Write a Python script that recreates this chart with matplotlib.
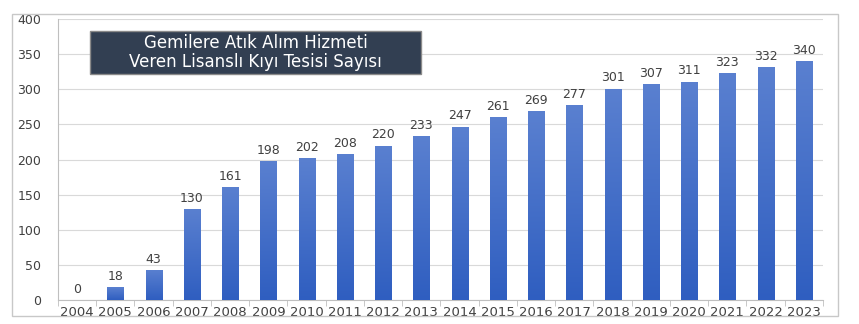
import matplotlib.pyplot as plt
import matplotlib.patches as mpatches
from matplotlib.colors import LinearSegmentedColormap
import numpy as np

# Veriler
yillar = ['2004', '2005', '2006', '2007', '2008', '2009', '2010', '2011', '2012', '2013',
          '2014', '2015', '2016', '2017', '2018', '2019', '2020', '2021', '2022', '2023']
tesis_sayisi = [0, 18, 43, 130, 161, 198, 202, 208, 220, 233,
                247, 261, 269, 277, 301, 307, 311, 323, 332, 340]
baslik = 'Gemilere Atık Alım Hizmeti\nVeren Lisanslı Kıyı Tesisi Sayısı'

fig = plt.figure(figsize=(8.59, 3.24), dpi=100)
ax = fig.add_axes([0.0675, 0.074, 0.8905, 0.867])

x = np.arange(len(yillar))
bars = ax.bar(x, tesis_sayisi, width=0.42, color='#3a66c4', zorder=2)

# dikey renk geçişi (üst açık, alt koyu)
grad = np.linspace(0, 1, 256).reshape(-1, 1)
cmap = LinearSegmentedColormap.from_list('g', ['#2f5ec0', '#5a80d0'])
for b in bars:
    h = b.get_height()
    if h <= 0:
        continue
    bx = b.get_x()
    im = ax.imshow(grad, cmap=cmap, origin='lower', aspect='auto',
                   extent=[bx, bx + b.get_width(), 0, h], zorder=3)
    im.set_clip_path(b)
    ax.text(bx + b.get_width() / 2, h + 6, str(h), ha='center', va='bottom',
            fontsize=9, color='#404040', zorder=4)
ax.text(0, 6, '0', ha='center', va='bottom', fontsize=9, color='#404040')

ax.set_xlim(-0.5, len(yillar) - 0.5)
ax.set_ylim(0, 400)
ax.set_yticks(range(0, 401, 50))
ax.set_xticks(x)
ax.set_xticklabels(yillar)
ax.set_xticks(np.arange(-0.5, len(yillar), 1), minor=True)
ax.tick_params(axis='x', which='major', length=0, labelsize=9.5, colors='#404040', pad=4)
ax.tick_params(axis='x', which='minor', length=4, color='#bfbfbf')
ax.tick_params(axis='y', length=0, labelsize=9, colors='#404040', pad=12)
ax.grid(axis='y', color='#d9d9d9', linewidth=0.8, zorder=0)
ax.set_axisbelow(True)
for s in ['top', 'right']:
    ax.spines[s].set_visible(False)
ax.spines['left'].set_color('#bfbfbf')
ax.spines['bottom'].set_color('#bfbfbf')

# başlık kutusu
fig.patches.append(mpatches.Rectangle((0.1048, 0.7716), 0.3853, 0.1327, transform=fig.transFigure,
                                      facecolor='#323f52', edgecolor='#8a8a8a', linewidth=1, zorder=5))
fig.text(0.2974, 0.838, baslik, ha='center', va='center', fontsize=12, color='white',
         family='DejaVu Sans', linespacing=1.1, zorder=6)

# dış çerçeve
fig.patches.append(mpatches.Rectangle((0.014, 0.025), 0.962, 0.932, transform=fig.transFigure,
                                      fill=False, edgecolor='#c8c8c8', linewidth=1))

fig.savefig('out.png', dpi=100)
